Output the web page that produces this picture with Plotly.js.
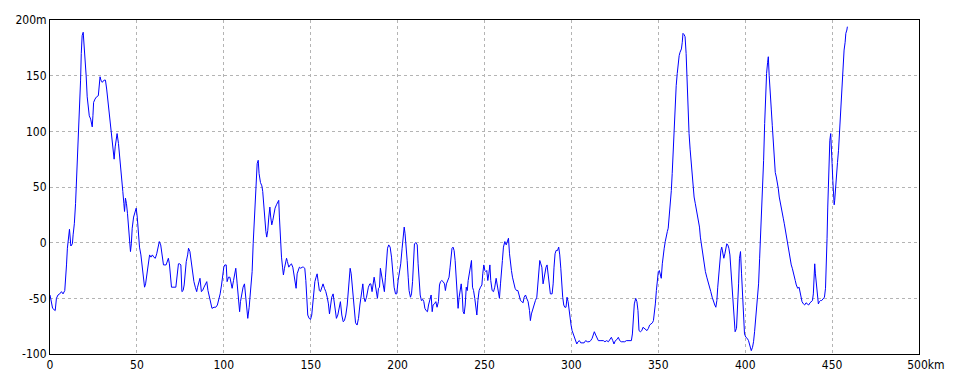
<!DOCTYPE html>
<html>
<head>
<meta charset="utf-8">
<script src="https://cdn.plot.ly/plotly-3.0.1.min.js"></script>
<style>html,body{margin:0;padding:0;background:#fff;}#chart{width:960px;height:384px;}</style>
</head>
<body>
<div id="chart"></div>
<script>
// Distance along route (km)
const distanceKm = [0,0.6,1.5,3,3.7,4.6,5.6,6.6,7.5,8.5,9,9.5,10,10.6,11.2,12,12.9,13.3,14,14.7,15.3,15.8,16.4,17,17.6,18,18.5,19.1,19.7,20.3,20.8,21.4,22,22.6,23.4,23.9,24.3,24.7,25.1,25.9,26.8,27.8,28.4,28.8,29.3,30.1,31.1,31.9,32.6,33.2,33.8,34.6,35.1,35.7,36.3,36.9,37.5,38,38.6,39.4,40,40.5,41.3,41.9,42.5,42.9,43.4,44,44.6,45.2,45.8,46.3,46.8,47.3,48.1,48.8,49.6,50.2,50.8,51.5,52.3,53.1,53.9,54.4,55,55.8,56.6,57.3,58.1,58.9,59.7,60.6,61.4,62.2,62.9,63.7,64.5,65.3,66.8,67.6,68.1,68.7,69.3,69.9,72.4,73.2,73.9,74.7,75.3,75.9,76.6,77.2,77.8,78.4,79.2,79.7,80.5,81.3,82,82.8,83.6,84.4,84.9,85.7,86.3,87.1,87.8,88.6,89.4,90.2,90.9,91.7,92.5,93.2,94.4,95.4,96.3,97.1,97.9,98.7,99.4,100,100.6,101.4,101.9,102.7,103.5,104.2,104.8,105.6,106.4,106.9,107.7,108.5,109.1,109.6,110.4,111.1,111.9,112.7,113.8,114.6,115.5,116.3,116.9,117.5,118,118.6,119.2,119.8,120.3,121.1,121.9,122.4,123,123.6,124.2,124.7,125.3,125.9,126.5,127,127.6,128.2,128.8,129.5,130.3,131.3,131.6,132,132.6,133.2,133.8,134.3,134.9,135.5,136.1,136.6,137.4,138.2,138.9,139.7,140.5,141,141.6,142.2,142.8,143.5,144.3,145.1,145.8,146.6,147.2,147.8,148.3,149.1,149.9,150.6,151.2,151.8,152.4,153.1,153.7,154.3,155,155.6,156.4,157.1,157.9,158.7,159.5,160.2,160.8,161.4,162.1,162.9,163.5,164.2,164.8,165.6,166.4,167.1,167.9,168.7,169.4,170.2,171,171.6,172.1,172.7,173.3,173.8,174.4,175,175.8,176.7,177.5,178.3,178.8,179.4,180,180.6,181.3,182.1,182.7,183.2,184,184.6,185.3,185.9,186.5,187.1,187.8,188.4,189,189.6,190.1,190.7,191.3,191.9,192.4,193,193.6,194.2,194.9,195.7,196.5,197.2,198,198.8,199.5,200.3,201.1,201.8,202.6,203.2,203.8,204.3,204.9,205.5,206.1,206.6,207.4,208,208.6,209.1,209.7,210.5,211.3,211.8,212.4,213,213.7,214.5,215.1,215.7,216.4,217.2,217.8,218.5,219.3,219.9,220.4,221.2,222,222.7,223.5,224.1,224.7,225.4,226.2,227,227.5,228.1,228.9,229.6,230.2,230.8,231.3,231.9,232.5,233.1,233.7,234.2,234.8,235.4,236,236.6,237.2,237.7,238.3,238.9,239.5,240.1,240.6,241.2,242,242.5,243.1,243.7,244.4,245,245.6,246.2,246.9,247.7,248.5,249,249.6,250.2,250.8,251.3,251.9,252.5,253.1,253.6,254.4,255.2,255.9,256.7,257.3,258,258.6,259.2,259.8,260.3,260.9,261.7,262.5,263.2,263.8,264.4,264.9,265.5,266.1,266.9,267.6,268.4,269.2,269.9,270.7,271.5,272.2,272.8,273.6,274.3,275.1,275.9,276.4,277,277.8,278.5,279.3,280.1,280.7,281.2,281.8,282.4,283,283.7,284.3,284.9,285.4,286,286.6,287.2,287.9,288.9,289.5,290,290.6,291.2,292,292.7,293.3,293.9,294.4,295,295.6,296.2,296.9,297.5,298.1,298.7,299.2,299.8,300.4,301,301.5,302.3,303.1,303.8,304.6,305.4,306.3,307.3,308.2,309.2,310.2,311.1,311.9,312.6,313.2,314,314.8,315.5,316.5,317.4,318.4,319.3,320.3,321.3,322.2,323,323.8,324.5,325.3,326.2,327,327.8,328.7,329.7,330.7,331.6,332.6,333.5,334.5,335.1,335.6,336.2,337,337.7,338.3,338.9,339.7,340.5,341.2,342,342.7,343.5,344.3,345,345.8,346.6,347.2,347.7,348.3,348.9,349.4,350,350.6,351.1,351.7,352.3,352.9,353.4,354,354.6,355.2,355.7,356.3,356.9,357.5,358,358.6,359.2,359.8,360.3,360.9,361.5,362,362.5,363.3,363.8,364.2,364.8,365.4,366,366.5,367.1,367.7,368.3,368.8,369.4,370,370.6,371.3,372.1,372.9,373.7,374.2,374.8,375.6,376.3,377.1,377.9,378.7,379.4,380.2,381,381.7,382.5,383.1,383.7,384.2,384.8,385.4,386,386.5,387.1,387.7,388.3,388.8,389.4,390,390.6,391.2,391.7,392.3,392.9,393.5,394.2,395,395.6,396.2,396.7,397.3,397.9,398.5,399,399.6,400.4,401.2,401.9,402.7,403.5,404.2,404.8,405.4,406,406.5,407.1,407.7,408.3,408.8,409.4,410,410.6,411.2,411.7,412.3,412.9,413.3,413.8,414.4,415,415.6,416.2,416.7,417.3,417.9,418.5,419,419.6,420.2,420.8,421.3,421.9,422.5,423.1,423.7,424.2,424.8,425.4,426,426.5,427.1,427.7,428.3,428.8,429.4,430.2,431,431.5,432.1,432.7,433.5,434.2,435,435.8,436.5,437.3,438.1,438.7,439.2,439.6,440,440.4,441,441.5,442.1,442.7,443.3,444,444.8,445.6,446.2,446.7,447.1,447.5,447.9,448.3,448.7,449.2,449.6,450,450.4,450.8,451.2,451.5,451.9,452.5,453.1,453.7,454,454.4,454.8,455.4,455.8,456.2,456.5,456.9,457.5,457.9,458.5,458.8];
// Elevation (m)
const elevationM = [-47,-52,-59,-61,-50,-47,-46,-44,-46,-43,-34,-20,-5,5,12,-3,-1,7,17,35,56,83,107,125,146,170,186,189,177,167,150,131,119,114,111,107,104,114,126,129,131,132,144,149,146,144,146,146,138,129,119,108,99,89,81,75,86,93,98,89,80,68,56,46,35,28,40,35,26,14,-1,-8,-1,13,23,28,31,23,11,-4,-11,-22,-32,-40,-37,-28,-17,-11,-13,-11,-13,-14,-10,-5,1,-2,-10,-20,-20,-16,-14,-19,-28,-40,-40,-31,-19,-19,-20,-44,-43,-38,-28,-17,-11,-5,-8,-19,-28,-35,-40,-44,-40,-35,-32,-44,-43,-40,-37,-35,-43,-49,-55,-59,-58,-58,-56,-52,-46,-38,-29,-22,-20,-20,-35,-31,-31,-37,-41,-34,-26,-23,-37,-53,-62,-53,-46,-40,-37,-53,-68,-58,-44,-26,-1,22,41,59,71,74,62,54,51,46,31,19,10,5,11,23,32,23,16,20,26,31,34,37,38,23,2,-13,-22,-29,-23,-19,-14,-17,-22,-20,-19,-22,-29,-35,-41,-28,-25,-22,-23,-22,-22,-23,-34,-52,-65,-68,-69,-65,-52,-43,-35,-31,-28,-35,-43,-44,-40,-37,-41,-44,-49,-55,-64,-56,-49,-46,-53,-61,-68,-65,-59,-53,-65,-71,-70,-65,-56,-41,-28,-23,-28,-37,-53,-65,-72,-74,-68,-56,-49,-41,-37,-49,-53,-49,-43,-40,-37,-37,-44,-38,-31,-37,-46,-50,-41,-40,-23,-29,-34,-38,-44,-31,-19,-5,-2,-4,-13,-29,-40,-46,-46,-34,-26,-19,-5,8,14,8,-2,-16,-31,-43,-49,-46,-35,-16,-1,0,-2,-19,-34,-47,-52,-51,-53,-59,-61,-62,-56,-52,-47,-62,-56,-55,-53,-58,-53,-38,-35,-34,-35,-37,-43,-37,-34,-31,-22,-13,-5,-4,-7,-16,-29,-38,-59,-49,-40,-37,-47,-62,-64,-56,-40,-43,-34,-28,-19,-16,-40,-43,-50,-61,-65,-52,-43,-40,-38,-28,-20,-25,-26,-25,-34,-28,-20,-34,-43,-44,-40,-32,-37,-46,-50,-37,-28,-16,-4,1,-2,1,4,-10,-19,-25,-31,-38,-41,-43,-43,-47,-52,-53,-54,-49,-47,-50,-53,-61,-70,-64,-59,-55,-52,-49,-34,-25,-16,-19,-22,-37,-31,-25,-22,-20,-29,-40,-46,-46,-37,-22,-10,-7,-7,-4,-11,-23,-40,-49,-56,-58,-58,-49,-53,-62,-68,-74,-79,-82,-85,-88,-91,-89,-88,-90,-90,-90,-88,-89,-89,-88,-86,-83,-80,-83,-86,-88,-88,-88,-88,-89,-88,-89,-87,-85,-88,-91,-88,-87,-85,-88,-89,-89,-89,-88,-88,-88,-88,-82,-70,-55,-50,-53,-61,-79,-80,-79,-76,-77,-78,-79,-77,-74,-73,-72,-70,-64,-55,-43,-31,-26,-25,-29,-32,-19,-8,-5,1,8,10,13,23,34,47,62,86,107,125,141,152,162,168,171,174,180,188,187,185,170,146,119,98,84,75,65,49,41,35,29,23,14,5,-1,-10,-20,-26,-31,-35,-40,-44,-49,-53,-56,-58,-52,-40,-29,-16,-7,-4,-10,-14,-10,-5,-1,-2,-5,-11,-22,-37,-56,-71,-80,-77,-62,-37,-14,-8,-28,-52,-70,-82,-85,-86,-88,-94,-97,-94,-89,-80,-70,-61,-53,-37,-14,4,22,44,74,107,134,152,162,167,150,138,120,105,86,69,63,59,54,49,41,35,31,26,22,17,11,7,4,-2,-11,-16,-20,-23,-28,-31,-34,-38,-41,-40,-44,-49,-53,-55,-56,-54,-55,-56,-54,-53,-52,-46,-31,-19,-28,-40,-49,-55,-53,-52,-52,-50,-49,-41,-22,4,32,56,83,92,98,89,71,56,41,34,38,49,62,72,83,92,104,114,128,140,152,164,173,180,188,191,194];

const xTickVals = [0,50,100,150,200,250,300,350,400,450,500];
const xTickText = ['0','50','100','150','200','250','300','350','400','450','\u2007\u2007500km'];
const yTickVals = [-100,-50,0,50,100,150,200];
const yTickText = ['-100','-50','0','50','100','150','200m'];

const font = {family: 'Liberation Sans Narrow, DejaVu Sans Condensed, Liberation Sans, sans-serif', size: 12, color: '#000'};

const trace = {
  x: distanceKm,
  y: elevationM,
  type: 'scatter',
  mode: 'lines',
  line: {color: '#0000ff', width: 1},
  hoverinfo: 'none'
};

const axisCommon = {
  showline: true, linecolor: '#000', linewidth: 1, mirror: true,
  showgrid: true, gridcolor: '#b4b4b4', gridwidth: 1, griddash: '3px,3px',
  zeroline: false, ticks: '', tickfont: font, fixedrange: true
};

const layout = {
  width: 960, height: 384,
  margin: {l: 50, r: 41, t: 20, b: 30, pad: 0},
  paper_bgcolor: '#fff', plot_bgcolor: '#fff',
  showlegend: false,
  font: font,
  xaxis: Object.assign({}, axisCommon, {range: [0, 500], tickmode: 'array', tickvals: xTickVals, ticktext: xTickText}),
  yaxis: Object.assign({}, axisCommon, {range: [-100, 200], tickmode: 'array', tickvals: yTickVals, ticktext: yTickText})
};

Plotly.newPlot('chart', [trace], layout, {staticPlot: true, displayModeBar: false});
</script>
</body>
</html>
